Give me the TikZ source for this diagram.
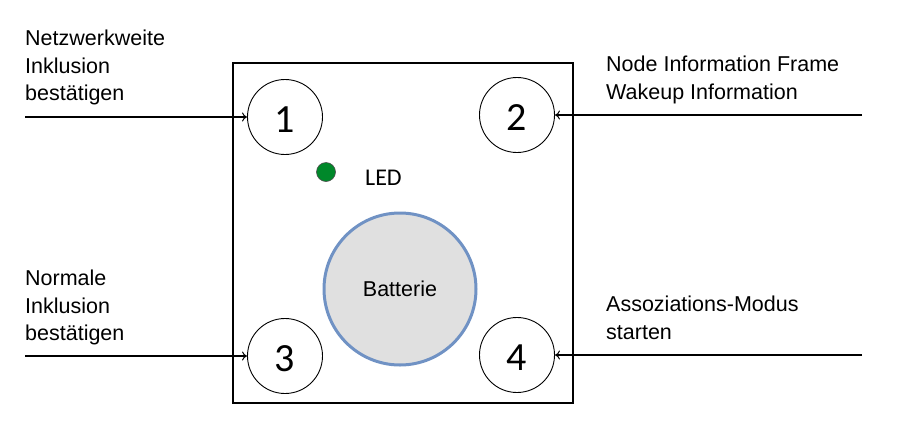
\documentclass[tikz,border=0pt]{standalone}
\usepackage{fontspec}
\setmainfont{Liberation Sans}
\newfontfamily\calibrifont{Carlito}
\usetikzlibrary{arrows.meta}
\definecolor{battblue}{HTML}{7092C4}
\definecolor{battgray}{HTML}{E0E0E0}
\definecolor{ledgreen}{HTML}{00882A}

\begin{document}
\begin{tikzpicture}[x=1pt, y=-1pt,
		knopf/.style={circle, draw, line width=0.9pt, inner sep=0pt, minimum size=75pt, text height=31pt, text depth=0pt, font=\calibrifont\fontsize{40}{42}\selectfont},
		beschriftung/.style={anchor=north west, align=left, inner sep=0pt, font=\fontsize{21.5}{27.5}\selectfont},
		pfeil/.style={line width=1.8pt, -{To[length=5pt, width=9pt, line width=1pt]}}]
		%%%%% START %%%%%
		
		\useasboundingbox (0, 0) rectangle (898, 432);
		
		\node[draw, line width=1.3pt, minimum size=340pt, inner sep=0pt] (platine) at (403, 233) {};
		
		\node[knopf] (k1) at (285, 117) {1};
		\node[knopf] (k2) at (517, 115) {2};
		\node[knopf] (k3) at (285, 356) {3};
		\node[knopf] (k4) at (517, 355) {4};
		
		\node[circle, fill=ledgreen, draw=black!70, line width=0.6pt, minimum size=19pt, inner sep=0pt] (led) at (326, 172) {};
		\node[anchor=west, inner sep=0pt, font=\calibrifont\fontsize{24}{26}\selectfont] (ledtext) at (365, 178) {LED};
		
		\node[circle, draw=battblue, line width=3pt, fill=battgray, minimum size=152pt, inner sep=0pt, font=\fontsize{21.5}{24}\selectfont] (batterie) at (400, 289) {Batterie};
		
		\node[beschriftung] (t1) at (25, 30) {Netzwerkweite\\Inklusion\\best\"atigen};
		\node[beschriftung] (t2) at (606, 56) {Node Information Frame\\Wakeup Information};
		\node[beschriftung] (t3) at (25, 270) {Normale\\Inklusion\\best\"atigen};
		\node[beschriftung] (t4) at (606, 296) {Assoziations-Modus\\starten};
		
		\coordinate (e1) at (25, 117);
		\coordinate (e2) at (862, 115);
		\coordinate (e3) at (25, 356);
		\coordinate (e4) at (862, 355);
		
		\draw[pfeil] (e1) -- (k1);
		\draw[pfeil] (e2) -- (k2);
		\draw[pfeil] (e3) -- (k3);
		\draw[pfeil] (e4) -- (k4);
		
		%%%%% END %%%%%
	\end{tikzpicture}
\end{document}
